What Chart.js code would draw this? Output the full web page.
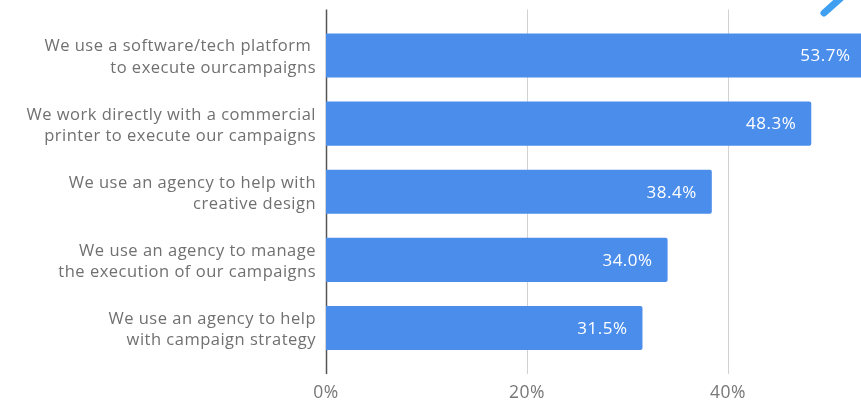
<!DOCTYPE html>
<html>
<head>
<meta charset="utf-8">
<script src="https://cdn.jsdelivr.net/npm/chart.js@4/dist/chart.umd.min.js"></script>
<style>
  html, body { margin: 0; padding: 0; background: #ffffff; overflow: hidden; }
  #wrap { width: 861px; height: 401px; position: relative; }
</style>
</head>
<body>
<div id="wrap"><canvas id="chart"></canvas></div>
<script>
// How campaigns get executed (share of respondents, %)
const categories = [
  ['We use a software/tech platform ', 'to execute ourcampaigns'],
  ['We work directly with a commercial', 'printer to execute our campaigns'],
  ['We use an agency to help with', 'creative design'],
  ['We use an agency to manage', 'the execution of our campaigns'],
  ['We use an agency to help', 'with campaign strategy']
];
const shares = [53.7, 48.3, 38.4, 34.0, 31.5];
const tickValues = [0, 20, 40];

const FONT = '"Open Sans", Lato, sans-serif';
const BAR_BLUE = '#4b8deb';
const TRACKING = '0.5px';

// Slightly open tracking for every text drawn on the canvas
const tracking = {
  id: 'tracking',
  beforeLayout(chart) { chart.ctx.letterSpacing = TRACKING; },
  beforeDraw(chart) { chart.ctx.letterSpacing = TRACKING; }
};

// Grid lines and the zero axis run a little past the plot area, top and bottom
const extendedGrid = {
  id: 'extendedGrid',
  beforeDatasetsDraw(chart) {
    const { ctx, chartArea, scales } = chart;
    const ext = 12;
    ctx.save();
    tickValues.forEach(v => {
      const x = Math.round(scales.x.getPixelForValue(v)) + 0.5;
      ctx.beginPath();
      if (v === 0) {
        ctx.strokeStyle = '#555555';
        ctx.lineWidth = 1.5;
      } else {
        ctx.strokeStyle = '#d2d2d2';
        ctx.lineWidth = 1;
      }
      ctx.moveTo(x, chartArea.top - ext);
      ctx.lineTo(x, chartArea.bottom + ext);
      ctx.stroke();
    });
    ctx.restore();
  }
};

// Value labels sit inside the end of each bar
const barValues = {
  id: 'barValues',
  afterDatasetsDraw(chart) {
    const { ctx } = chart;
    const meta = chart.getDatasetMeta(0);
    ctx.save();
    ctx.font = '17px ' + FONT;
    ctx.fillStyle = '#ffffff';
    ctx.textAlign = 'right';
    ctx.textBaseline = 'middle';
    meta.data.forEach((bar, i) => {
      ctx.fillText(shares[i].toFixed(1) + '%', bar.x - 15, bar.y + 1);
    });
    ctx.restore();
  }
};

// Edge of the brand mark peeking in at the top right
const cornerMark = {
  id: 'cornerMark',
  afterDraw(chart) {
    const { ctx, width } = chart;
    ctx.save();
    ctx.strokeStyle = '#3f9ff0';
    ctx.lineWidth = 7;
    ctx.lineCap = 'round';
    ctx.beginPath();
    ctx.moveTo(width - 37, 13);
    ctx.lineTo(width - 18, -4);
    ctx.stroke();
    ctx.restore();
  }
};

new Chart(document.getElementById('chart'), {
  type: 'bar',
  data: {
    labels: categories,
    datasets: [{
      data: shares,
      backgroundColor: BAR_BLUE,
      borderRadius: 2,
      borderSkipped: 'start',
      barPercentage: 0.8,
      categoryPercentage: 0.81
    }]
  },
  options: {
    indexAxis: 'y',
    responsive: true,
    maintainAspectRatio: false,
    animation: false,
    layout: { padding: { top: 21.5, right: 0, bottom: 0, left: 0 } },
    plugins: {
      legend: { display: false },
      tooltip: { enabled: false }
    },
    scales: {
      x: {
        min: 0,
        max: 53.25,
        afterBuildTicks(scale) {
          scale.ticks = tickValues.map(v => ({ value: v }));
        },
        afterFit(scale) {
          scale.height = 39;
          scale.paddingLeft = 0;
          scale.paddingRight = 0;
        },
        grid: { display: false, drawTicks: false },
        border: { display: false },
        ticks: {
          padding: 21,
          color: '#777777',
          font: { family: FONT, size: 17.5 },
          callback: v => v + '%'
        }
      },
      y: {
        afterFit(scale) {
          scale.width = 326;
          scale.paddingTop = 0;
          scale.paddingBottom = 0;
        },
        grid: { display: false, drawTicks: false },
        border: { display: false },
        ticks: {
          padding: 10,
          labelOffset: 2,
          color: '#707070',
          font: { family: FONT, size: 16.5, lineHeight: 1.31 }
        }
      }
    }
  },
  plugins: [tracking, extendedGrid, barValues, cornerMark]
});
</script>
</body>
</html>
